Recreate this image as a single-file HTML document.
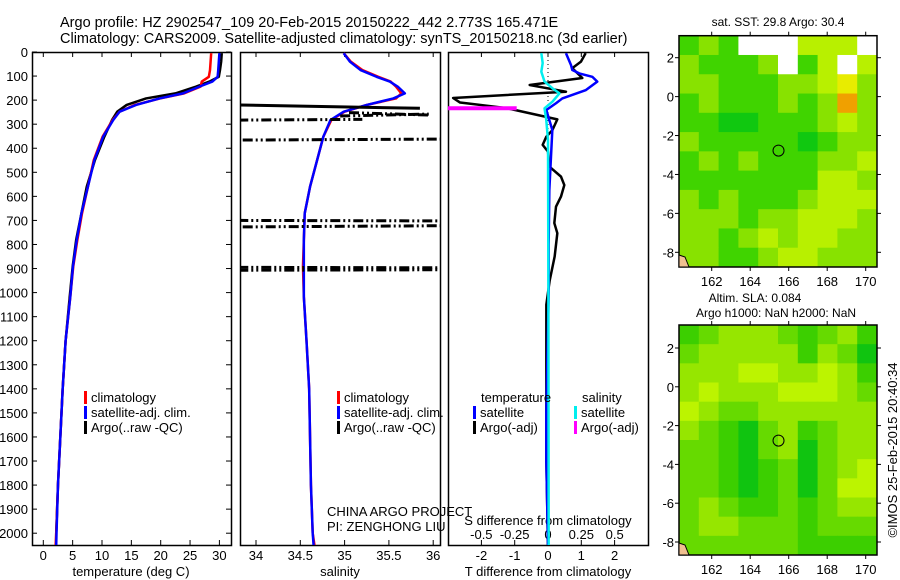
<!DOCTYPE html>
<html><head><meta charset="utf-8"><style>
html,body{margin:0;padding:0;background:#fff;}
svg{display:block;font-family:"Liberation Sans",sans-serif;}
</style></head><body>
<svg id="fig" width="900" height="580" viewBox="0 0 900 580" xmlns="http://www.w3.org/2000/svg">
<text x="60" y="27" font-size="14.5">Argo profile: HZ 2902547_109 20-Feb-2015 20150222_442 2.773S 165.471E</text>
<text x="60" y="43" font-size="14.5">Climatology: CARS2009. Satellite-adjusted climatology: synTS_20150218.nc (3d earlier)</text>
<g id="g"></g>
</svg>
<script>
// ---------- data ----------
const depthTicks=[0,100,200,300,400,500,600,700,800,900,1000,1100,1200,1300,1400,1500,1600,1700,1800,1900,2000];
const tempTicks=[0,5,10,15,20,25,30];
const salTicks=[34,34.5,35,35.5,36];
const salTickLabels=["34","34.5","35","35.5","36"];
const tdiffTicks=[-2,-1,0,1,2];
const sdiffTicks=[-0.5,-0.25,0,0.25,0.5];
const sdiffTickLabels=["-0.5","-0.25","0","0.25","0.5"];
const lonTicks=[162,164,166,168,170];
const latTicks=[2,0,-2,-4,-6,-8];

const profDepth=[5,40,75,103,123,144,172,193,220,248,283,352,449,560,670,781,892,1017,1200,1400,1600,1800,2000,2050];
const tempClim=[28.6,28.5,28.4,28.2,27.0,26.8,24.0,19.9,15.6,13.0,11.8,10.1,8.6,7.6,6.6,5.8,5.1,4.6,3.8,3.3,2.9,2.5,2.2,2.1];
const tempSat =[30.0,29.9,29.8,29.7,28.8,26.6,23.8,19.8,15.8,13.0,11.9,10.2,8.7,7.6,6.5,5.7,5.05,4.6,3.8,3.3,2.9,2.5,2.25,2.2];
const tempArgo=[30.4,30.3,30.1,29.9,28.3,26.0,22.5,17.5,14.2,12.6,11.7,10.4,8.8,7.4,6.5,5.6,5.0,4.5,3.8,3.3,2.9,2.5,2.2,2.2];
const salClim=[34.99,35.07,35.2,35.38,35.52,35.58,35.64,35.58,35.25,35.0,34.85,34.76,34.69,34.61,34.55,34.54,34.53,34.54,34.57,34.6,34.61,34.62,34.64,34.66];
const salSat =[34.99,35.06,35.18,35.36,35.51,35.6,35.68,35.55,35.25,34.99,34.84,34.76,34.69,34.61,34.55,34.54,34.54,34.54,34.57,34.6,34.61,34.62,34.64,34.65];
// Argo salinity spikes: depth start, salinity start, depth end, salinity end
const argoSalSpikeD1=[220,252,283,266,366,700,727,895,907];
const argoSalSpikeS1=[33.8,35.05,33.8,34.95,33.85,33.8,33.85,33.8,33.8];
const argoSalSpikeD2=[234,262,280,258,362,702,722,897,905];
const argoSalSpikeS2=[35.85,35.95,35.2,35.95,36.1,36.1,36.1,36.1,36.1];
const argoSalSpikeSolid=[1,0,0,0,0,0,0,0,0];

const tdDepth=[5,40,67,108,137,165,191,210,233,280,325,352,386,414,476,518,553,601,643,711,753,850,950,1050,1500,1700,2050];
const tdArgo=[1.13,0.99,0.73,1.03,-0.55,0.54,-2.85,-2.64,-1.25,0.28,0.13,-0.05,-0.16,0,0.04,0.39,0.49,0.39,0.24,0.19,0.28,0.2,0.05,-0.05,-0.05,-0.05,0.0];
const tdSatDepth=[5,54,75,89,103,123,158,193,213,241,283,324,435,574,800,1000,1500,1700,2050];
const tdSat=[0.54,0.69,0.73,0.94,1.33,1.48,1.14,0.43,0.24,-0.05,0.04,0.13,0.09,0.04,0.02,0.02,-0.05,-0.05,0.0];
const sdSatDepth=[5,46,82,123,151,172,206,234,283,366,1000,2050];
const sdSat=[-0.05,-0.04,-0.05,-0.026,0.034,0.086,0.034,-0.026,-0.013,0,0.003,0.005];
const sdArgoDepth=[234,234];
const sdArgo=[-0.9,-0.235];

// map grids (10 lon cols x 12 lat rows), palette indices
const sstGrid=[
[1,2,1,7,7,7,3,3,3,7],
[2,1,1,1,2,7,1,3,7,3],
[2,2,1,1,1,2,2,3,4,2],
[1,2,1,1,1,2,1,2,5,2],
[1,1,0,0,1,1,1,2,3,2],
[2,1,1,1,1,1,0,1,2,2],
[1,2,1,2,1,1,1,2,2,3],
[1,1,1,1,1,1,1,3,3,2],
[2,1,2,1,1,1,2,3,3,3],
[2,2,2,1,2,2,3,3,3,2],
[2,2,1,2,3,2,3,3,2,2],
[2,2,1,1,2,3,3,2,2,2]];
const slaGrid=[
[1,2,3,3,3,2,1,2,3,1],
[2,3,3,3,3,3,1,3,2,0],
[3,3,3,4,4,3,3,4,3,1],
[3,4,3,3,3,4,4,4,3,2],
[4,3,2,2,3,3,3,3,3,3],
[3,2,1,0,2,3,1,2,3,3],
[2,2,1,0,2,3,0,2,3,3],
[2,2,1,0,1,2,0,2,3,4],
[2,2,1,0,1,2,0,2,4,4],
[2,3,2,1,1,2,1,2,3,3],
[2,3,3,2,2,2,1,2,2,2],
[2,2,2,2,2,2,1,1,1,1]];
const sstPalette=["#10c810","#40d400","#88e200","#b8f000","#e8ec00","#f0a000","#b02000","#ffffff"];
const slaPalette=["#10c410","#3ccf00","#66da00","#96e600","#bcf400"];
const floatLon=165.471, floatLat=-2.773;

// ---------- drawing ----------
const NS="http://www.w3.org/2000/svg";
const G=document.getElementById('g');
function mk(tag,attrs,parent){const e=document.createElementNS(NS,tag);for(const k in attrs)e.setAttribute(k,attrs[k]);(parent||G).appendChild(e);return e;}
function txt(x,y,s,opts,parent){const e=mk('text',Object.assign({x:x,y:y,'font-size':13},opts||{}),parent);e.textContent=s;return e;}

const TOP=52,BOT=545;
const yD=d=>TOP+d*0.2406;
const xT=t=>43.3+t*5.87;
const xS=s=>256+(s-34)*88.6;
const xTD=t=>548+t*33.3;
const xSD=s=>548+s*133.3;

function polyline(xs,ys,color,w,name,clip){
  const p=mk('polyline',{points:xs.map((x,i)=>x+','+ys[i]).join(' '),fill:'none',stroke:color,'stroke-width':w,'stroke-linejoin':'round'});
  if(clip)p.setAttribute('clip-path','url(#'+clip+')');
  
  
  return p;
}
const defs=mk('defs',{});
[['c1',32,231],['c2',240,440],['c3',448,648]].forEach(c=>{
  const cp=mk('clipPath',{id:c[0]},defs);mk('rect',{x:c[1],y:TOP,width:c[2]-c[1],height:BOT-TOP},cp);
});

// panel frames
const panels=[[32,231,'temperature-panel'],[240,440,'salinity-panel'],[448,648,'difference-panel']];
panels.forEach(p=>{
  const r=mk('rect',{x:p[0]+0.5,y:TOP+0.5,width:p[1]-p[0],height:BOT-TOP,fill:'none',stroke:'#000','stroke-width':1.5});
  
  
});
// depth ticks
depthTicks.forEach(d=>{
  const y=yD(d);
  mk('line',{x1:32,x2:37,y1:y,y2:y,stroke:'#000'});
  mk('line',{x1:226,x2:231,y1:y,y2:y,stroke:'#000'});
  const t=txt(28,y+5,String(d),{'text-anchor':'end'});
  
  
});
tempTicks.forEach(v=>{const x=xT(v);mk('line',{x1:x,x2:x,y1:BOT,y2:BOT-5,stroke:'#000'});mk('line',{x1:x,x2:x,y1:TOP,y2:TOP+5,stroke:'#000'});
  const t=txt(x,560,String(v),{'text-anchor':'middle'});});
salTicks.forEach((v,i)=>{const x=xS(v);mk('line',{x1:x,x2:x,y1:BOT,y2:BOT-5,stroke:'#000'});mk('line',{x1:x,x2:x,y1:TOP,y2:TOP+5,stroke:'#000'});
  const t=txt(x,560,salTickLabels[i],{'text-anchor':'middle'});});
tdiffTicks.forEach(v=>{const x=xTD(v);mk('line',{x1:x,x2:x,y1:BOT,y2:BOT-5,stroke:'#000'});mk('line',{x1:x,x2:x,y1:TOP,y2:TOP+5,stroke:'#000'});
  const t=txt(x,560,String(v),{'text-anchor':'middle'});});
sdiffTicks.forEach((v,i)=>{const x=xSD(v);
  const t=txt(x,539,sdiffTickLabels[i],{'text-anchor':'middle'});});
let t;
t=txt(131,576,'temperature (deg C)',{'text-anchor':'middle'});
t=txt(340,576,'salinity',{'text-anchor':'middle'});
t=txt(548,576,'T difference from climatology',{'text-anchor':'middle'});
t=txt(548,525,'S difference from climatology',{'text-anchor':'middle'});
t=txt(327,516,'CHINA ARGO PROJECT');
t=txt(327,531,'PI: ZENGHONG LIU');

// zero dotted line in diff panel
mk('line',{x1:xTD(0),x2:xTD(0),y1:TOP,y2:yD(420),stroke:'#000','stroke-dasharray':'1 3'});

// temperature
const ys=profDepth.map(yD);
polyline(tempArgo.map(xT),ys,'#000',2.5,'temp-argo-line','c1');
polyline(tempClim.map(xT),ys,'#f00',2.5,'temp-climatology-line','c1');
polyline(tempSat.map(xT),ys,'#00f',2.5,'temp-satellite-line','c1');
// salinity
polyline(salClim.map(xS),ys,'#f00',2.5,'sal-climatology-line','c2');
polyline(salSat.map(xS),ys,'#00f',2.5,'sal-satellite-line','c2');
argoSalSpikeD1.forEach((d,i)=>{
  const l=mk('line',{x1:xS(argoSalSpikeS1[i]),y1:yD(d),x2:xS(argoSalSpikeS2[i]),y2:yD(argoSalSpikeD2[i]),stroke:'#000','stroke-width':3,'clip-path':'url(#c2)'});
  if(!argoSalSpikeSolid[i])l.setAttribute('stroke-dasharray','10 3 2 3 2 3');
  
  
});
// differences
polyline(tdArgo.map(xTD),tdDepth.map(yD),'#000',2.5,'tdiff-argo-line','c3');
polyline(tdSat.map(xTD),tdSatDepth.map(yD),'#00f',2.5,'tdiff-satellite-line','c3');
polyline(sdSat.map(xSD),sdSatDepth.map(yD),'#0ee',2.5,'sdiff-satellite-line','c3');
polyline(sdArgo.map(xSD),sdArgoDepth.map(yD),'#f0f',4,'sdiff-argo-line','c3');

// legends
function legItem(x,y,color,label,name){
  const g=mk('g',{});
  mk('rect',{x:x,y:y-11,width:3,height:13,fill:color},g);
  txt(x+7,y,label,{},g);
}
legItem(84,402,'#f00','climatology','legend-climatology');
legItem(84,417,'#00f','satellite-adj. clim.','legend-satellite-adj');
legItem(84,432,'#000','Argo(..raw -QC)','legend-argo');
legItem(337,402,'#f00','climatology','legend-sal-climatology');
legItem(337,417,'#00f','satellite-adj. clim.','legend-sal-satellite-adj');
legItem(337,432,'#000','Argo(..raw -QC)','legend-sal-argo');
t=txt(481,402,'temperature');
t=txt(582,402,'salinity');
legItem(473,417,'#00f','satellite','legend-tdiff-satellite');
legItem(473,432,'#000','Argo(-adj)','legend-tdiff-argo');
legItem(574,417,'#0ee','satellite','legend-sdiff-satellite');
legItem(574,432,'#f0f','Argo(-adj)','legend-sdiff-argo');

// maps
function drawMap(top,bot,grid,pal,name,lat2y,latm8y){
  const L=679,R=877;
  const xL=lon=>711.7+(lon-162)*19.25;
  const yL=lat=>lat2y+(2-lat)*(latm8y-lat2y)/10;
  const lon0=(L-711.7)/19.25+162, lon1=(R-711.7)/19.25+162;
  const lat0=2+(lat2y-top)/((latm8y-lat2y)/10), lat1=2-(bot-lat2y)/((latm8y-lat2y)/10);
  const g=mk('g',{});
  const nr=grid.length,nc=grid[0].length;
  const dlon=(lon1-lon0)/nc,dlat=(lat0-lat1)/nr;
  grid.forEach((row,r)=>row.forEach((v,c)=>{
    const x=xL(lon0+c*dlon),y=yL(lat0-r*dlat);
    const cell=mk('rect',{x:x,y:y,width:xL(lon0+(c+1)*dlon)-x+0.5,height:yL(lat0-(r+1)*dlat)-y+0.5,fill:pal[v]},g);
    
    
  }));
  mk('rect',{x:L,y:top,width:R-L,height:bot-top,fill:'none',stroke:'#000','stroke-width':1.5},g);
  lonTicks.forEach(v=>{const x=xL(v);mk('line',{x1:x,x2:x,y1:top,y2:top-4,stroke:'#000'},g);mk('line',{x1:x,x2:x,y1:bot,y2:bot+4,stroke:'#000'},g);
    txt(x,bot+19,String(v),{'text-anchor':'middle'},g);});
  latTicks.forEach(v=>{const y=yL(v);mk('line',{x1:L,x2:L-4,y1:y,y2:y,stroke:'#000'},g);mk('line',{x1:R,x2:R+4,y1:y,y2:y,stroke:'#000'},g);
    txt(674,y+5,String(v),{'text-anchor':'end'},g);});
  const c=mk('circle',{cx:xL(floatLon),cy:yL(floatLat),r:5.5,fill:'none',stroke:'#000','stroke-width':1},g);
  
  
  mk('polygon',{points:`${L},${bot-12} ${L+6},${bot-10} ${L+10},${bot} ${L},${bot}`,fill:'#f0c090',stroke:'#000','stroke-width':1},g);
}
drawMap(35.7,267,sstGrid,sstPalette,'sst-map',57.7,252.3);
drawMap(325,555,slaGrid,slaPalette,'sla-map',348,542);
t=txt(778,26,'sat. SST: 29.8 Argo: 30.4',{'text-anchor':'middle','font-size':12});
t=txt(755,302,'Altim. SLA: 0.084',{'text-anchor':'middle','font-size':12});
t=txt(776,317,'Argo h1000: NaN h2000: NaN',{'text-anchor':'middle','font-size':12});
t=txt(0,0,'©IMOS 25-Feb-2015 20:40:34',{'text-anchor':'middle','font-size':13,transform:'translate(897,450) rotate(-90)'});
</script>
</body></html>
